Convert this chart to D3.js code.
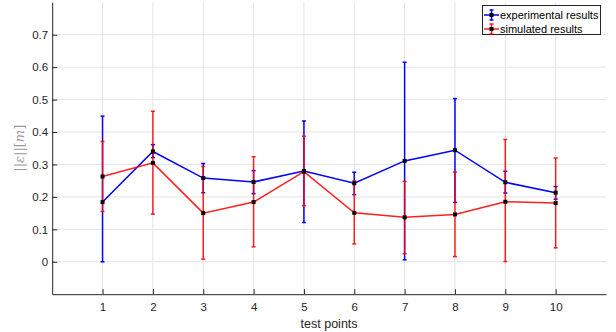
<!DOCTYPE html>
<html>
<head>
<meta charset="utf-8">
<script src="https://cdn.jsdelivr.net/npm/d3@7"></script>
<style>
  html, body { margin: 0; padding: 0; background: #fff; }
  svg { display: block; font-family: "Liberation Sans", Arial, sans-serif; }
</style>
</head>
<body>
<svg id="chart" width="616" height="332"></svg>
<script>
// Test point indices
const testPoints = [1, 2, 3, 4, 5, 6, 7, 8, 9, 10];

// Experimental results: mean error and error-bar bounds [m]
const expMean = [0.184, 0.340, 0.258, 0.246, 0.280, 0.242, 0.311, 0.344, 0.245, 0.213];
const expLow  = [0.000, 0.321, 0.213, 0.210, 0.121, 0.207, 0.006, 0.183, 0.212, 0.193];
const expHigh = [0.449, 0.361, 0.303, 0.281, 0.434, 0.276, 0.615, 0.503, 0.279, 0.232];

// Simulated results: mean error and error-bar bounds [m]
const simMean = [0.263, 0.305, 0.150, 0.184, 0.278, 0.151, 0.137, 0.146, 0.185, 0.181];
const simLow  = [0.155, 0.147, 0.008, 0.046, 0.173, 0.055, 0.025, 0.016, 0.001, 0.043];
const simHigh = [0.371, 0.464, 0.294, 0.324, 0.387, 0.249, 0.248, 0.276, 0.377, 0.320];

// Axis ticks
const xTicks = [1, 2, 3, 4, 5, 6, 7, 8, 9, 10];
const yTicks = [0, 0.1, 0.2, 0.3, 0.4, 0.5, 0.6, 0.7];

const seriesNames = ["experimental results", "simulated results"];

const svg = d3.select("#chart");
const plotL = 52.2, plotR = 606, plotT = 2.3, plotB = 294.2;

const x = d3.scaleLinear().domain([0, 11]).range([plotL, plotR]);
const y = d3.scaleLinear().domain([-0.1, 0.8]).range([plotB, plotT]);

const axisColor = "#262626";
const gridColor = "#e3e3e3";

// Grid
const grid = svg.append("g");
grid.selectAll("line.gx").data(xTicks).join("line")
  .attr("x1", d => x(d)).attr("x2", d => x(d))
  .attr("y1", plotT).attr("y2", plotB)
  .attr("stroke", gridColor).attr("stroke-width", 1);
grid.selectAll("line.gy").data(yTicks).join("line")
  .attr("x1", plotL).attr("x2", plotR)
  .attr("y1", d => y(d)).attr("y2", d => y(d))
  .attr("stroke", gridColor).attr("stroke-width", 1);

// Axes (ticks pointing inward)
const xAxis = d3.axisBottom(x).tickValues(xTicks).tickSizeInner(-5).tickSizeOuter(0)
  .tickPadding(9).tickFormat(d3.format("d"));
const yAxis = d3.axisLeft(y).tickValues(yTicks).tickSizeInner(-5).tickSizeOuter(0)
  .tickPadding(4).tickFormat(d => d === 0 ? "0" : d3.format(".1f")(d));

const gx = svg.append("g").attr("transform", `translate(0,${plotB})`).call(xAxis);
const gy = svg.append("g").attr("transform", `translate(${plotL},0)`).call(yAxis);
[gx, gy].forEach(g => {
  g.select(".domain").attr("stroke", axisColor).attr("stroke-width", 1);
  g.selectAll(".tick line").attr("stroke", axisColor).attr("stroke-width", 1);
  g.selectAll(".tick text").attr("fill", axisColor)
    .style("font-family", "'Liberation Sans', Arial, sans-serif").style("font-size", "11.5px");
});

// Axis titles
svg.append("text")
  .attr("x", (plotL + plotR) / 2).attr("y", 328)
  .attr("text-anchor", "middle").attr("fill", axisColor)
  .style("font-size", "12.5px")
  .text("test points");

const yl = svg.append("text")
  .attr("transform", `translate(24,${(plotT + plotB) / 2}) rotate(-90)`)
  .attr("text-anchor", "middle").attr("fill", "#9a9a9a")
  .style("font-family", "'DejaVu Serif', 'Liberation Serif', serif").style("font-size", "13px");
yl.append("tspan").text("||");
yl.append("tspan").style("font-style", "italic").text("ε");
yl.append("tspan").text("||[");
yl.append("tspan").style("font-style", "italic").text("m");
yl.append("tspan").text("]");

// Series
const series = [
  { name: seriesNames[0], mean: expMean, low: expLow, high: expHigh, color: "#0000ff", opacity: 1 },
  { name: seriesNames[1], mean: simMean, low: simLow, high: simHigh, color: "#ff0000", opacity: 0.88 }
];

const line = d3.line().x(d => x(d.t)).y(d => y(d.m));
const capW = 2;

series.forEach(s => {
  const pts = testPoints.map((t, i) => ({ t, m: s.mean[i], lo: s.low[i], hi: s.high[i] }));
  const g = svg.append("g").attr("stroke", s.color).attr("stroke-opacity", s.opacity)
    .attr("stroke-width", 1.5).attr("fill", "none");
  g.append("path").datum(pts).attr("d", line);
  g.selectAll("line.bar").data(pts).join("line")
    .attr("x1", d => x(d.t)).attr("x2", d => x(d.t))
    .attr("y1", d => y(d.lo)).attr("y2", d => y(d.hi));
  g.selectAll("line.capHi").data(pts).join("line")
    .attr("x1", d => x(d.t) - capW).attr("x2", d => x(d.t) + capW)
    .attr("y1", d => y(d.hi)).attr("y2", d => y(d.hi));
  g.selectAll("line.capLo").data(pts).join("line")
    .attr("x1", d => x(d.t) - capW).attr("x2", d => x(d.t) + capW)
    .attr("y1", d => y(d.lo)).attr("y2", d => y(d.lo));
  s.pts = pts;
});

// Square markers at the means
series.forEach(s => {
  svg.append("g").selectAll("rect").data(s.pts).join("rect")
    .attr("x", d => x(d.t) - 2).attr("y", d => y(d.m) - 2)
    .attr("width", 4).attr("height", 4).attr("fill", "#000");
});

// Legend
const lg = svg.append("g");
lg.append("rect").attr("x", 482.5).attr("y", 5.5).attr("width", 118).attr("height", 29)
  .attr("fill", "#fff").attr("stroke", axisColor).attr("stroke-width", 1);
series.forEach((s, i) => {
  const cy = 15 + i * 14;
  const cx = 491.5;
  const r = lg.append("g").attr("stroke", s.color).attr("stroke-opacity", s.opacity).attr("stroke-width", 1.5);
  r.append("line").attr("x1", 484).attr("x2", 499).attr("y1", cy).attr("y2", cy);
  r.append("line").attr("x1", cx).attr("x2", cx).attr("y1", cy - 5).attr("y2", cy + 5);
  r.append("line").attr("x1", cx - capW).attr("x2", cx + capW).attr("y1", cy - 5).attr("y2", cy - 5);
  r.append("line").attr("x1", cx - capW).attr("x2", cx + capW).attr("y1", cy + 5).attr("y2", cy + 5);
  lg.append("rect").attr("x", cx - 2).attr("y", cy - 2).attr("width", 4).attr("height", 4).attr("fill", "#000");
  lg.append("text").attr("x", 500).attr("y", cy + 4).attr("fill", "#000")
    .style("font-size", "11px").text(s.name);
});
</script>
</body>
</html>
